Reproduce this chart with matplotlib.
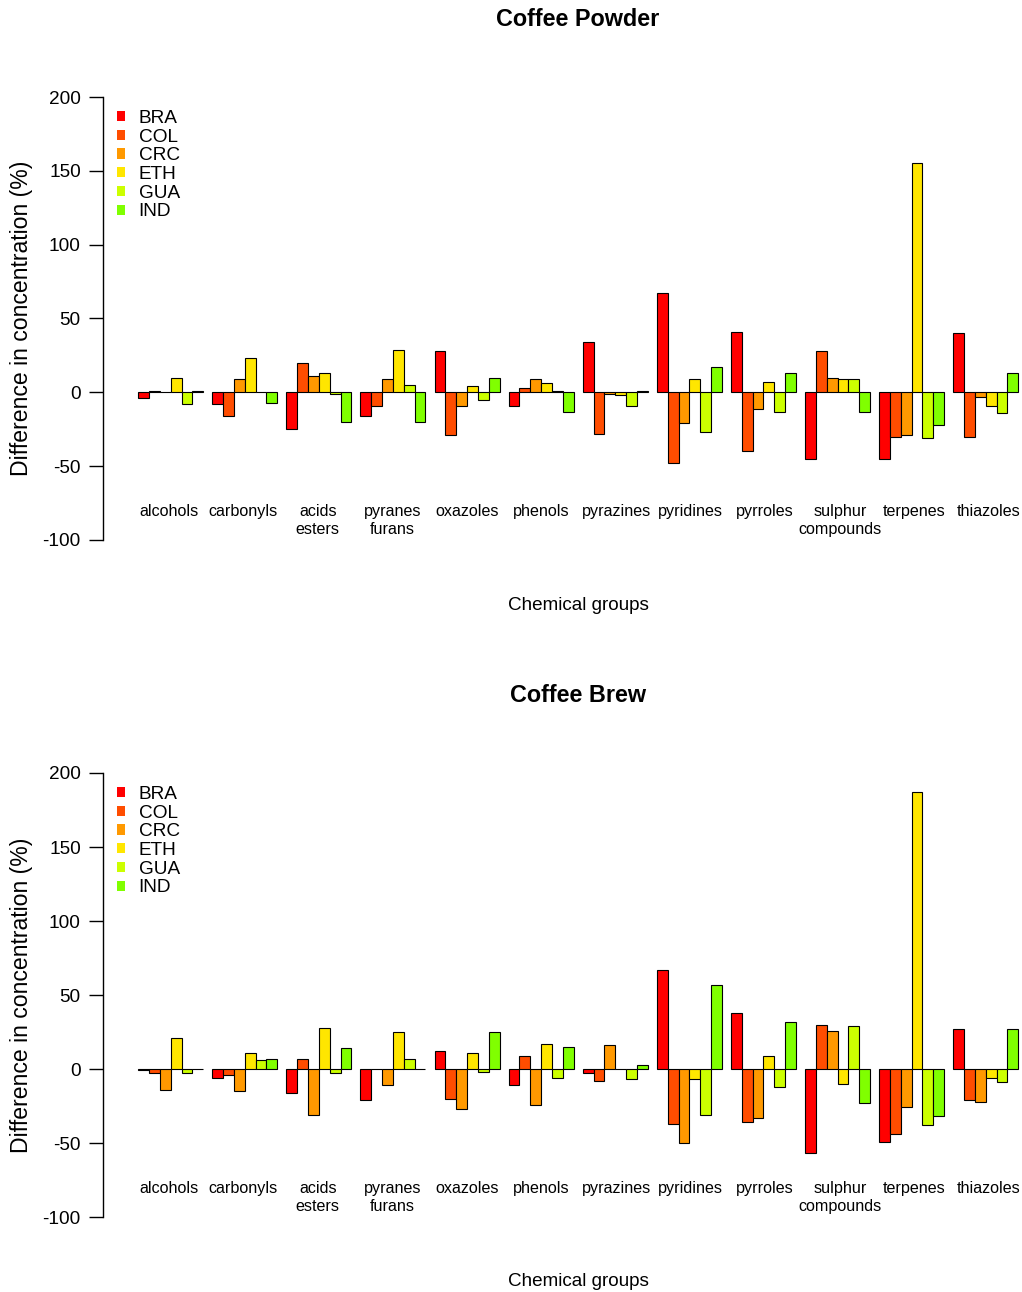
import numpy as np
import matplotlib
matplotlib.use("Agg")
import matplotlib.pyplot as plt
from matplotlib.patches import Patch

plt.rcParams['font.family'] = ['Liberation Sans', 'DejaVu Sans']
plt.rcParams['axes.unicode_minus'] = False

groups = ["alcohols", "carbonyls", "acids\nesters", "pyranes\nfurans", "oxazoles",
          "phenols", "pyrazines", "pyridines", "pyrroles", "sulphur\ncompounds",
          "terpenes", "thiazoles"]
origins = ["BRA", "COL", "CRC", "ETH", "GUA", "IND"]
colors = ["#FF0000", "#FF4D00", "#FF9900", "#FFE600", "#CCFF00", "#80FF00"]

# rows = origin, columns = chemical group
powder = np.array([
    [-4, -8, -25, -16, 28, -9, 34, 67, 41, -45, -45, 40],      # BRA
    [1, -16, 20, -9, -29, 3, -28, -48, -40, 28, -30, -30],     # COL
    [0, 9, 11, 9, -9, 9, -1, -21, -11, 10, -29, -3],           # CRC
    [10, 23, 13, 29, 4, 6, -2, 9, 7, 9, 155, -9],              # ETH
    [-8, 0, -1, 5, -5, 1, -9, -27, -13, 9, -31, -14],          # GUA
    [1, -7, -20, -20, 10, -13, 1, 17, 13, -13, -22, 13],       # IND
])
brew = np.array([
    [-1, -6, -16, -21, 12, -11, -3, 67, 38, -57, -49, 27],     # BRA
    [-3, -4, 7, 0, -20, 9, -8, -37, -36, 30, -44, -21],        # COL
    [-14, -15, -31, -11, -27, -24, 16, -50, -33, 26, -26, -22], # CRC
    [21, 11, 28, 25, 11, 17, 0, -7, 9, -10, 187, -6],          # ETH
    [-3, 6, -3, 7, -2, -6, -7, -31, -12, 29, -38, -9],         # GUA
    [0, 7, 14, 0, 25, 15, 3, 57, 32, -23, -32, 27],            # IND
])

W, H = 1022, 1292
fig = plt.figure(figsize=(W / 100, H / 100), dpi=100)

gap = 0.84
stride = len(origins) + gap
total = len(groups) * len(origins) + (len(groups) - 1) * gap
pxu = 880 / total
x_left = -0.04 * total


def panel(top_px, bot_px, data, title, title_y, xlab_y):
    ax = fig.add_axes([103 / W, 1 - bot_px / H, (W - 103) / W, (bot_px - top_px) / H])
    x_right = x_left + (W - 103) / pxu
    for k in range(len(origins)):
        xs = np.arange(len(groups)) * stride + k + 0.5
        ax.bar(xs, data[k], width=1, color=colors[k], edgecolor="black",
               linewidth=0.8, label=origins[k], zorder=2)
    # group labels sit on a slightly wider pitch than the bars
    centers = np.arange(len(groups)) * stride * 1.0067 + len(origins) / 2 - 0.2
    for c, g in zip(centers, groups):
        ax.text(c, -75.5, g, ha="center", va="top", fontsize=11.6,
                linespacing=1.3, clip_on=False)
    ax.set_xlim(x_left, x_right)
    ax.set_ylim(-100, 200)
    ax.set_yticks([-100, -50, 0, 50, 100, 150, 200])
    ax.tick_params(axis="y", length=10, width=1, labelsize=13.7, pad=6)
    ax.set_xticks([])
    for s in ["top", "right", "bottom"]:
        ax.spines[s].set_visible(False)
    ax.spines["left"].set_linewidth(1)
    handles = [Patch(facecolor=c, edgecolor="none") for c in colors]
    ax.legend(handles, origins, loc="upper left", bbox_to_anchor=(0.015, 0.971),
              frameon=False, fontsize=13.7, handlelength=0.45, handleheight=0.45,
              handletextpad=0.7, labelspacing=0.09, borderpad=0, borderaxespad=0)
    yc = 1 - (top_px + bot_px) / 2 / H
    fig.text(22 / W, yc, "Difference in concentration (%)", rotation=90,
             ha="center", va="center", fontsize=16.6)
    fig.text(578 / W, 1 - title_y / H, title, ha="center", va="center",
             fontsize=16.8, fontweight="bold")
    fig.text(578 / W, 1 - xlab_y / H, "Chemical groups", ha="center",
             va="center", fontsize=13.6)
    return ax


panel(97, 540, powder, "Coffee Powder", 20, 605)
panel(773, 1217, brew, "Coffee Brew", 695, 1281)

fig.savefig("out.png", dpi=100)
